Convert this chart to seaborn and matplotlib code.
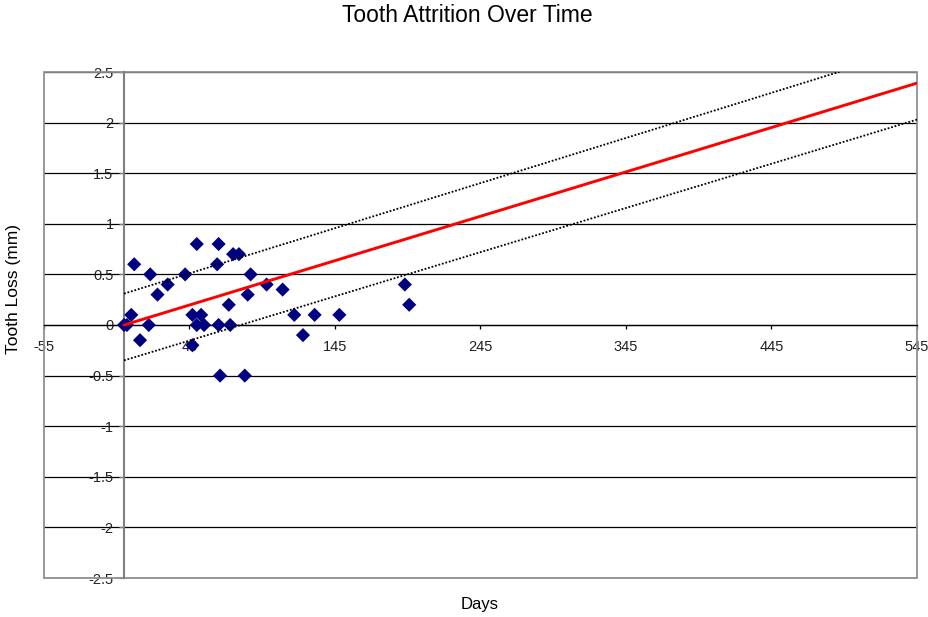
import matplotlib
matplotlib.use("Agg")
import matplotlib.pyplot as plt
from matplotlib.patches import Rectangle
import seaborn as sns
import pandas as pd

# ---- data ----
days = [0, 2, 5, 7, 11, 17, 18, 23, 30, 42, 47, 47, 50, 50, 53, 55,
        64, 65, 65, 66, 72, 73, 75, 79, 83, 85, 87, 98, 109, 117, 123,
        131, 148, 193, 196]
loss = [0, 0, 0.1, 0.6, -0.15, 0, 0.5, 0.3, 0.4, 0.5, -0.2, 0.1, 0.8, 0, 0.1, 0,
        0.6, 0.8, 0, -0.5, 0.2, 0, 0.7, 0.7, -0.5, 0.3, 0.5, 0.4, 0.35, 0.1, -0.1,
        0.1, 0.1, 0.4, 0.2]

trend_x = [0, 545]
trend_y = [0.0, 2.39]
upper_y = [0.31, 2.74]
lower_y = [-0.35, 2.03]

x_ticks = [-55, 45, 145, 245, 345, 445, 545]
y_ticks = [-2.5, -2, -1.5, -1, -0.5, 0, 0.5, 1, 1.5, 2, 2.5]
y_tick_labels = ["-2.5", "-2", "-1.5", "-1", "-0.5", "0", "0.5", "1", "1.5", "2", "2.5"]

title = "Tooth Attrition Over Time"
x_label = "Days"
y_label = "Tooth Loss (mm)"

# ---- styling ----
sns.set_theme(style="white")
plt.rcParams["font.family"] = ["Liberation Sans", "DejaVu Sans"]

W, H = 929, 617
fig = plt.figure(figsize=(W / 100, H / 100), dpi=100)
left, right, top, bottom = 44, 917, 72, 578
ax = fig.add_axes([left / W, 1 - bottom / H, (right - left) / W, (bottom - top) / H])

df = pd.DataFrame({"days": days, "loss": loss})
sns.scatterplot(data=df, x="days", y="loss", marker="D", s=52, color="#000080",
                edgecolor="none", linewidth=0, ax=ax, zorder=4, legend=False)

sns.lineplot(x=trend_x, y=trend_y, color="#ff0000", linewidth=2.1, ax=ax, zorder=5)
sns.lineplot(x=trend_x, y=upper_y, color="black", linewidth=1.3, linestyle=(0, (1, 1)), ax=ax, zorder=5)
sns.lineplot(x=trend_x, y=lower_y, color="black", linewidth=1.3, linestyle=(0, (1, 1)), ax=ax, zorder=5)

ax.set_xlim(-55, 545)
ax.set_ylim(-2.5, 2.5)
ax.set_xticks(x_ticks)
ax.set_xticklabels([str(t) for t in x_ticks])
ax.set_yticks(y_ticks)
ax.set_yticklabels(y_tick_labels)
ax.set_xlabel("")
ax.set_ylabel("")

ax.yaxis.grid(True, color="black", linewidth=0.9)
ax.xaxis.grid(False)
ax.set_axisbelow(True)

for s in ["top", "right"]:
    ax.spines[s].set_visible(False)
ax.spines["left"].set_position(("data", 0))
ax.spines["bottom"].set_position(("data", 0))
ax.spines["left"].set_color("#808080")
ax.spines["left"].set_linewidth(1.5)
ax.spines["bottom"].set_color("black")
ax.spines["bottom"].set_linewidth(0.9)

ax.add_patch(Rectangle((0, 0), 1, 1, transform=ax.transAxes, fill=False,
                       edgecolor="#909090", linewidth=1.3, zorder=1.5, clip_on=False))

ax.tick_params(axis="x", direction="out", length=3, width=0.9, color="black",
               pad=8, labelsize=10.5, labelcolor="#222222", bottom=True)
ax.tick_params(axis="y", direction="out", length=3.5, width=0.9, color="#808080",
               pad=4, labelsize=10.5, labelcolor="#222222", left=True)

fig.text(467 / W, 1 - 15 / H, title, ha="center", va="center", fontsize=16.5, color="black")
fig.text(480 / W, 1 - 605 / H, x_label, ha="center", va="center", fontsize=12, color="black")
fig.text(14 / W, 1 - 289 / H, y_label, ha="center", va="center", rotation=90,
         fontsize=12.5, color="black")

fig.savefig("out.png", dpi=100, facecolor="white")
